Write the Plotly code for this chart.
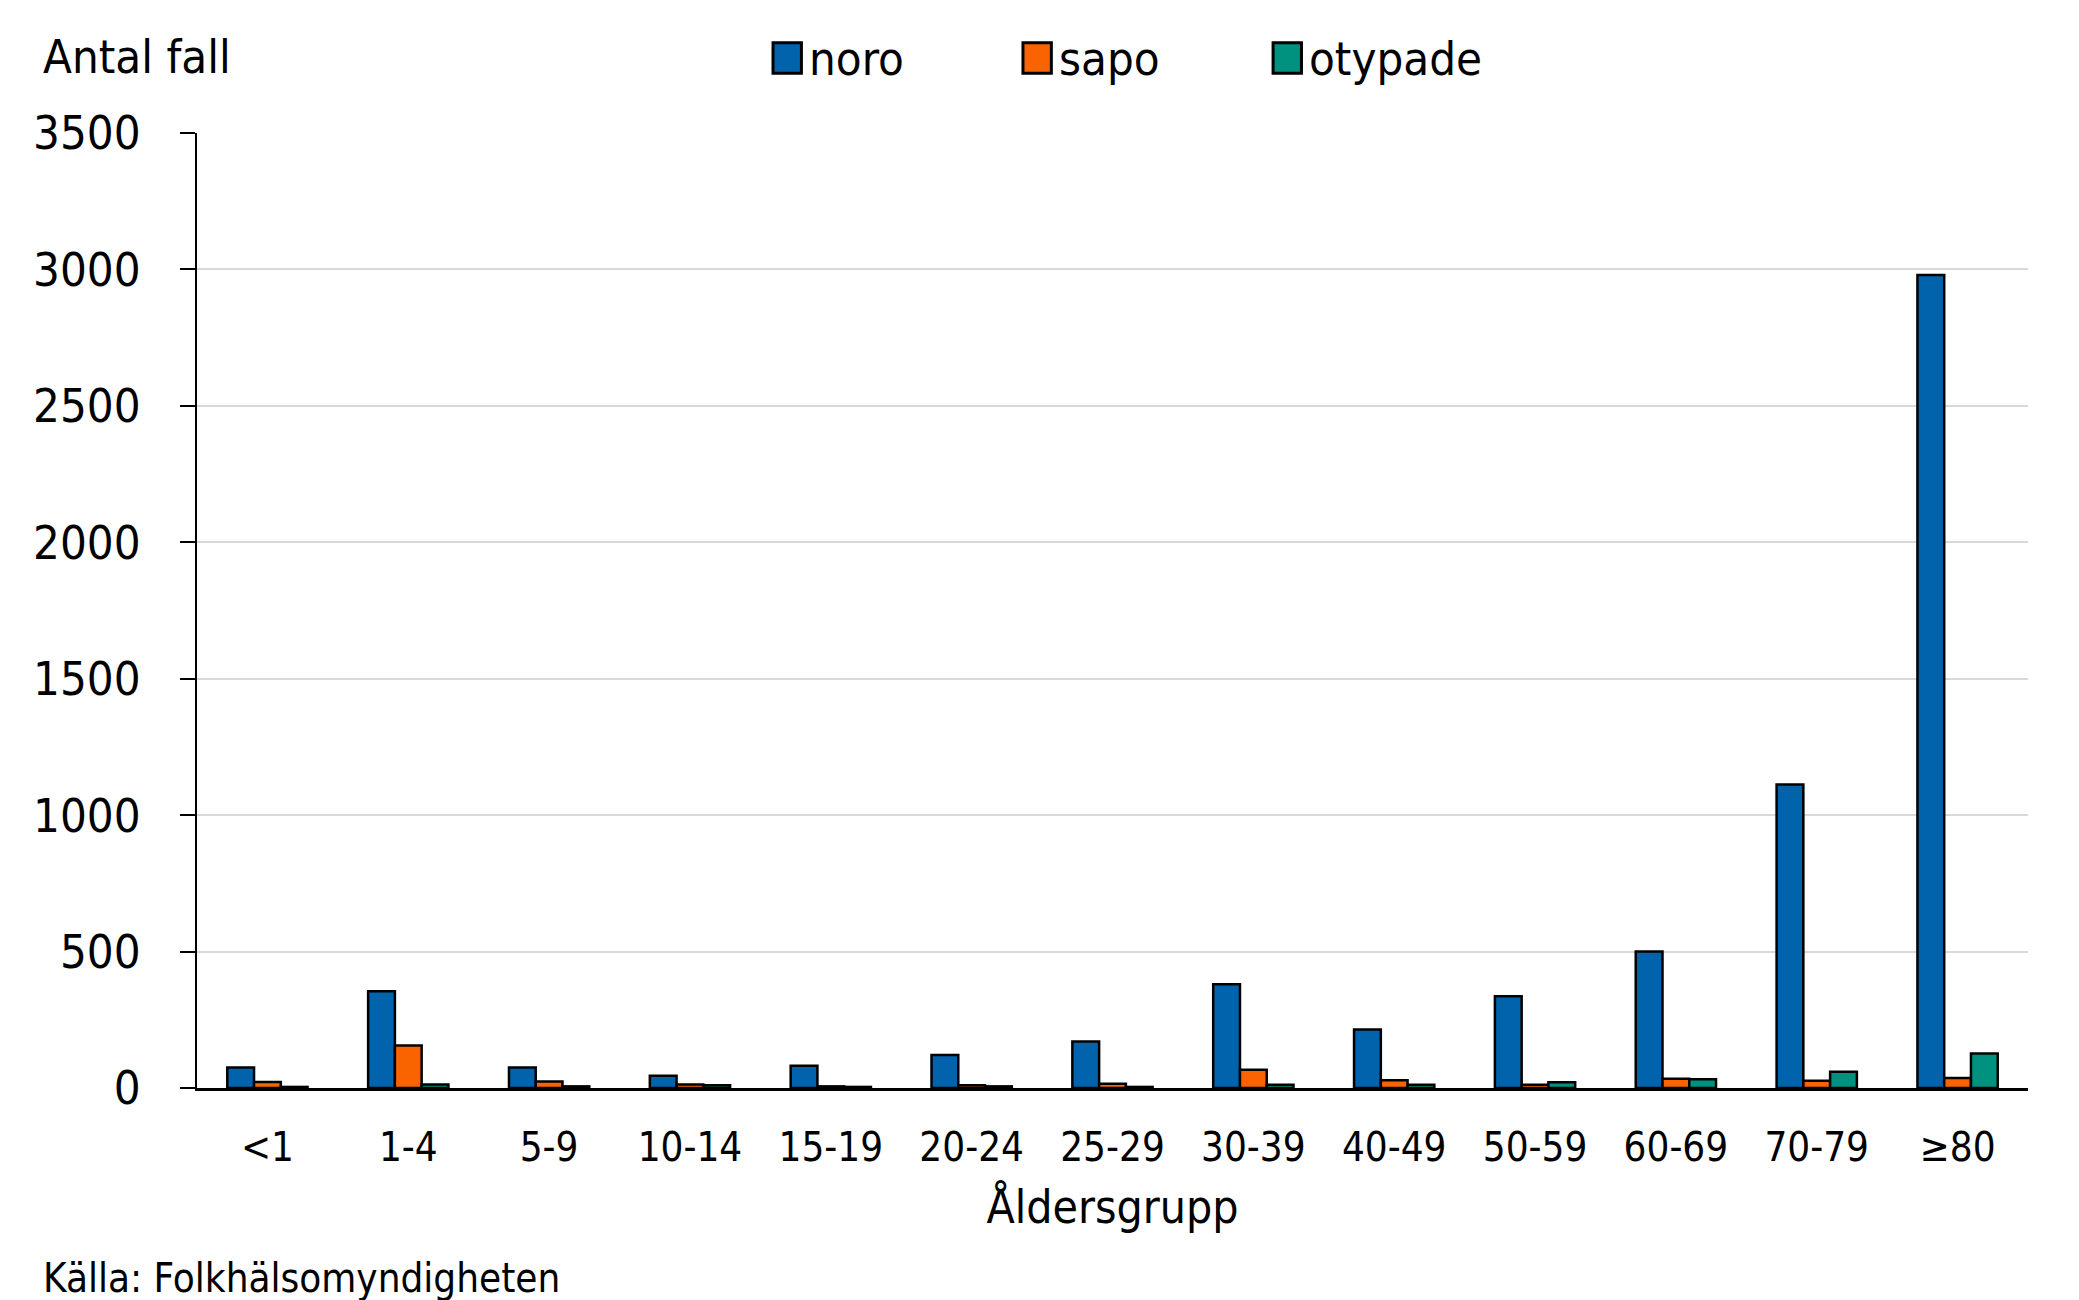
import plotly.graph_objects as go

# Age groups and case counts per virus type
age_groups = ['<1', '1-4', '5-9', '10-14', '15-19', '20-24', '25-29',
              '30-39', '40-49', '50-59', '60-69', '70-79', '≥80']
noro = [75, 355, 75, 45, 82, 121, 170, 380, 214, 336, 500, 1112, 2980]
sapo = [22, 156, 24, 13, 6, 10, 16, 67, 28, 12, 34, 27, 37]
otypade = [4, 13, 6, 10, 4, 6, 4, 12, 12, 21, 32, 60, 126]

series_names = ['noro', 'sapo', 'otypade']
series_colors = ['#0063AC', '#FA6400', '#00917F']

FONT = 'DejaVu Sans Condensed, DejaVu Sans, sans-serif'

fig = go.Figure()

# One bar trace per series, black outlines
for name, vals, col in zip(series_names, [noro, sapo, otypade], series_colors):
    fig.add_trace(go.Bar(
        x=age_groups,
        y=vals,
        name=name,
        marker=dict(color=col, line=dict(color='black', width=2.5)),
        showlegend=False
    ))

# Hand-made legend at the top (bigger keys than plotly's own legend)
legend_x = [0.3146, 0.4511, 0.5877]
for lx, name, col in zip(legend_x, series_names, series_colors):
    fig.add_shape(type='rect', xref='paper', yref='paper',
                  x0=lx, x1=lx + 0.0155, y0=1.0625, y1=1.0945,
                  fillcolor=col, line=dict(color='black', width=3))
    fig.add_annotation(x=lx + 0.0185, y=1.0785, xref='paper', yref='paper',
                       text=name, showarrow=False, xanchor='left', yanchor='middle',
                       font=dict(size=47, color='black', family=FONT))

# y axis label in the top left corner
fig.add_annotation(x=-0.0852, y=1.0796, xref='paper', yref='paper',
                   text='Antal fall', showarrow=False, xanchor='left', yanchor='middle',
                   font=dict(size=47, color='black', family=FONT))

# Source note
fig.add_annotation(x=-0.0852, y=-0.199, xref='paper', yref='paper',
                   text='Källa: Folkhälsomyndigheten', showarrow=False,
                   xanchor='left', yanchor='middle',
                   font=dict(size=40, color='black', family=FONT))

fig.update_layout(
    width=2079,
    height=1300,
    margin=dict(l=189, r=59, t=125, b=220),
    barmode='group',
    bargap=0.43,
    bargroupgap=0,
    paper_bgcolor='white',
    plot_bgcolor='white',
    font=dict(family=FONT, color='black'),
    xaxis=dict(
        automargin=False,
        showline=True, linecolor='black', linewidth=3,
        ticks='', showgrid=False, zeroline=False,
        tickfont=dict(size=40, color='black'),
        ticklabelstandoff=22,
        title=dict(text='Åldersgrupp', font=dict(size=46, color='black'), standoff=22),
    ),
    yaxis=dict(
        automargin=False,
        range=[0, 3500],
        dtick=500,
        showline=True, linecolor='black', linewidth=2,
        ticks='outside', ticklen=15, tickwidth=2, tickcolor='black',
        showgrid=True, gridcolor='#D9D9D9', gridwidth=2,
        zeroline=False,
        tickfont=dict(size=47, color='black'),
        ticklabelstandoff=30,
    ),
)

fig.write_html('out.html')
